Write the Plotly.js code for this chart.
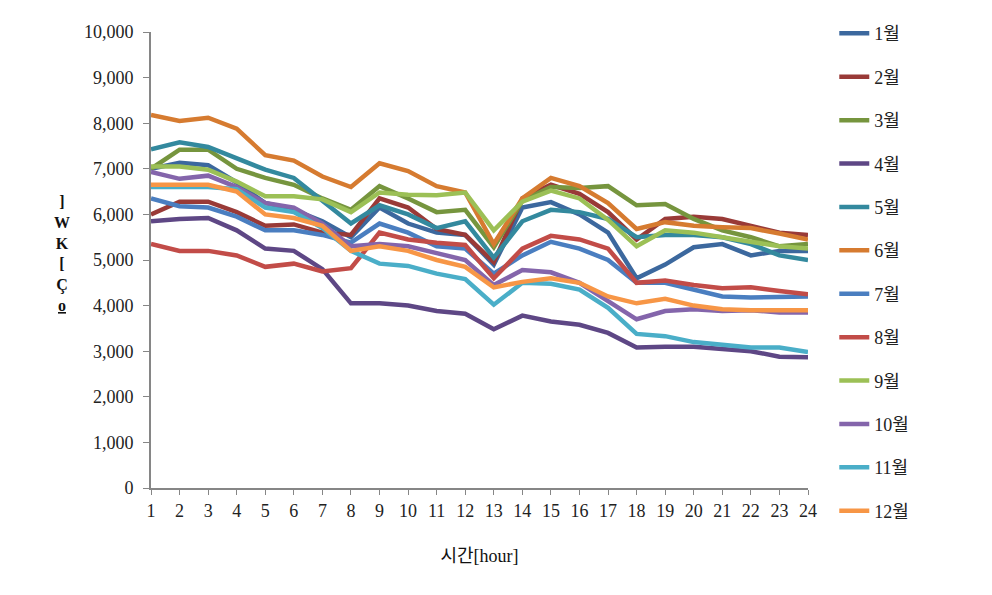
<!DOCTYPE html>
<html>
<head>
<meta charset="utf-8">
<script src="https://cdn.plot.ly/plotly-3.0.1.min.js"></script>
<style>html,body{margin:0;padding:0;background:#fff;}#chart{width:992px;height:595px;}</style>
</head>
<body>
<div id="chart"></div>
<script>
const hours = [1,2,3,4,5,6,7,8,9,10,11,12,13,14,15,16,17,18,19,20,21,22,23,24];
const monthNames = ["1월","2월","3월","4월","5월","6월","7월","8월","9월","10월","11월","12월"];

const jan = [7000,7130,7080,6700,6250,6100,5850,5500,6150,5800,5600,5550,4900,6150,6270,6000,5600,4600,4900,5280,5350,5100,5200,5200];
const feb = [6000,6280,6280,6050,5750,5780,5600,5550,6350,6150,5680,5550,4950,6350,6650,6450,6050,5450,5900,5950,5900,5750,5600,5550];
const mar = [7000,7420,7420,7000,6800,6650,6350,6100,6620,6350,6050,6100,5280,6300,6600,6580,6620,6200,6230,5900,5650,5500,5300,5350];
const apr = [5850,5900,5920,5650,5250,5200,4800,4050,4050,4000,3880,3820,3480,3780,3650,3580,3400,3080,3100,3100,3050,3000,2880,2870];
const may = [7430,7580,7480,7230,6980,6800,6300,5800,6200,6000,5700,5850,5050,5850,6100,6050,5900,5500,5550,5550,5500,5350,5100,5000];
const jun = [8180,8050,8120,7880,7300,7180,6830,6600,7120,6950,6620,6480,5350,6350,6800,6620,6250,5680,5830,5750,5720,5700,5580,5450];
const jul = [6350,6180,6150,5950,5650,5650,5550,5380,5800,5600,5300,5250,4700,5100,5400,5250,5000,4500,4500,4350,4200,4180,4200,4200];
const aug = [5350,5200,5200,5100,4850,4920,4750,4820,5600,5450,5380,5330,4600,5250,5530,5450,5250,4500,4550,4450,4380,4400,4320,4250];
const sep = [7050,7050,6980,6720,6400,6400,6330,6050,6480,6430,6420,6480,5650,6280,6520,6350,5880,5300,5650,5600,5500,5400,5300,5250];
const oct = [6930,6780,6850,6600,6250,6150,5800,5300,5350,5300,5150,5000,4450,4780,4730,4500,4100,3700,3880,3920,3880,3900,3850,3850];
const nov = [6600,6600,6600,6550,6150,6050,5700,5200,4920,4870,4700,4580,4020,4500,4480,4350,3950,3380,3330,3200,3130,3080,3080,2980];
const dec = [6650,6650,6650,6500,6000,5920,5750,5200,5300,5200,5000,4850,4400,4520,4600,4500,4200,4050,4150,4000,3920,3900,3900,3900];

const yTickVals = [0,1000,2000,3000,4000,5000,6000,7000,8000,9000,10000];
const yTickText = ["0","1,000","2,000","3,000","4,000","5,000","6,000","7,000","8,000","9,000","10,000"];

const series = [jan,feb,mar,apr,may,jun,jul,aug,sep,oct,nov,dec];
const colors = ["#3c689e","#993a37","#76953e","#5e4785","#33899e","#d67b30",
                "#4a7ec0","#c24c48","#9cc056","#8465ab","#4aaec8","#f79646"];

const traces = series.map((s,i)=>({
  x: hours, y: s, type:"scatter", mode:"lines", name: monthNames[i],
  legendgroup: "g"+i,
  line:{color:colors[i], width:4.5}
}));

const fontFam = "'Liberation Serif','Noto Sans CJK KR',serif";
const layout = {
  width:992, height:595,
  margin:{l:151, r:184, t:32, b:107},
  paper_bgcolor:"#fff", plot_bgcolor:"#fff",
  font:{family:fontFam, size:18, color:"#222"},
  showlegend:true,
  legend:{x:1.04, y:1.037, xanchor:"left", yanchor:"top", tracegroupgap:17, maxheight:590,
          font:{family:fontFam, size:18, color:"#222"}, bgcolor:"rgba(0,0,0,0)"},
  xaxis:{range:[1,24], tickvals:hours, ticktext:hours.map(String),
         showline:true, linecolor:"#868686", linewidth:2, ticks:"outside", ticklen:5, tickcolor:"#868686",
         showgrid:false, zeroline:false, tickfont:{family:fontFam, size:18, color:"#222"},
         title:{text:"시간[hour]", font:{family:fontFam, size:18, color:"#111"}, standoff:30}},
  yaxis:{range:[0,10000], tickvals:yTickVals, ticktext:yTickText,
         showline:true, linecolor:"#868686", linewidth:2, ticks:"outside", ticklen:6, tickcolor:"#868686",
         showgrid:false, zeroline:false, tickfont:{family:fontFam, size:18, color:"#222"}, ticklabelstandoff:6},
  annotations:[{xref:"paper", yref:"paper", x:-0.135, y:0.515, xanchor:"center", yanchor:"middle",
    text:"<b>]<br>W<br>K<br>[<br>Ç<br><u>o</u></b>", showarrow:false,
    font:{family:fontFam, size:16, color:"#111"}}]
};
Plotly.newPlot("chart", traces, layout, {staticPlot:true});
</script>
</body>
</html>
